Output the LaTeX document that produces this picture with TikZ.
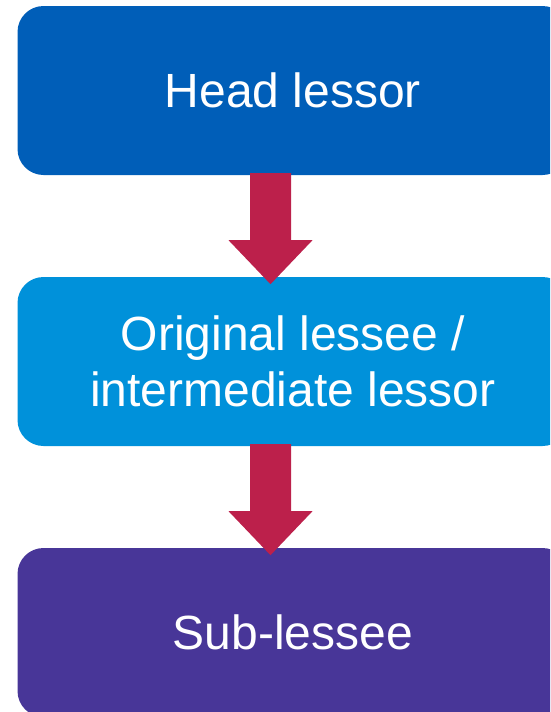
\documentclass[tikz,border=0pt]{standalone}
\usepackage{fontspec}
\setmainfont{Liberation Sans}
\usetikzlibrary{calc}
\definecolor{headblue}{HTML}{005EB8}
\definecolor{midblue}{HTML}{0091DA}
\definecolor{subpurple}{HTML}{483698}
\definecolor{flowred}{HTML}{BC204B}
\tikzset{
  tierbox/.style={rounded corners=26pt, minimum width=551pt, minimum height=169pt,
    inner sep=0pt, text=white, align=center,
    font=\fontsize{48}{56}\selectfont},
  flowarrow/.style={fill=flowred}
}
\begin{document}
\begin{tikzpicture}[x=1pt,y=1pt]
  \useasboundingbox (0,0) rectangle (550,-712);
  \clip (0,0) rectangle (550,-712);
  % the three parties of the lease chain
  \node[tierbox, fill=headblue]  (head) at (293,-90.5)  {Head lessor};
  \node[tierbox, fill=midblue]   (mid)  at (293,-361.5) {Original lessee /\\intermediate lessor};
  \node[tierbox, fill=subpurple] (sub)  at (293,-632.5) {Sub-lessee};
  % block arrows between the tiers
  \coordinate (a1) at ($(head.south)+(-22.5,2)$);
  \coordinate (a2) at ($(mid.south)+(-22.5,2)$);
  \foreach \s in {a1,a2}{
    \fill[flowarrow] (\s) ++(-20.5,0) -- ++(0,-67) -- ++(-21.5,0) -- ++(42,-44)
      -- ++(42,44) -- ++(-21.5,0) -- ++(0,67) -- cycle;
  }
\end{tikzpicture}
\end{document}
